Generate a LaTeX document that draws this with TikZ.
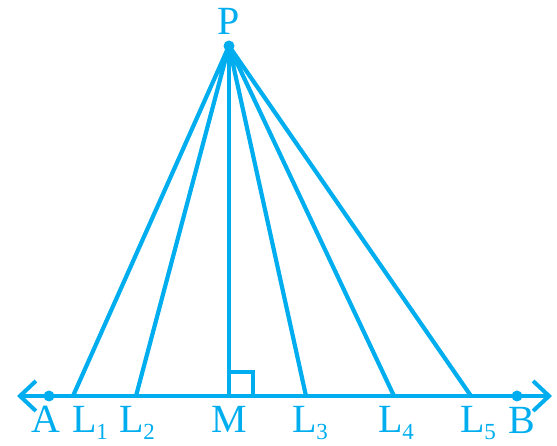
\documentclass[tikz,border=0pt]{standalone}
\usepackage{fontspec}
\setmainfont{Liberation Serif}
\usepackage{xcolor}
\definecolor{vizLine}{HTML}{00AEEF}
\usetikzlibrary{arrows.meta}
\newcommand{\lsub}[1]{\raisebox{-7pt}{\fontsize{23}{23}\selectfont #1}}

\begin{document}
\begin{tikzpicture}[x=1pt,y=1pt,
    seg/.style={draw=vizLine, line width=4.2pt},
    ptdot/.style={circle, fill=vizLine, inner sep=0pt, minimum size=11pt},
    lbl/.style={text=vizLine, font=\fontsize{40}{40}\selectfont, anchor=base, inner sep=0pt}]
  \useasboundingbox (0,0) rectangle (557,446);
  % points
  \node[ptdot] (P) at (229,400) {};
  \node[ptdot] (A) at (49,50) {};
  \node[ptdot] (B) at (517,50) {};
  \coordinate (Aend) at (17,50);
  \coordinate (Bend) at (552,50);
  \coordinate (L1) at (73,50);
  \coordinate (L2) at (136,50);
  \coordinate (M) at (229,50);
  \coordinate (L3) at (306,50);
  \coordinate (L4) at (394,50);
  \coordinate (L5) at (471,50);
  % base line
  \draw[seg, {Straight Barb[length=16pt,width=30pt,line width=4pt]}-{Straight Barb[length=16pt,width=30pt,line width=4pt]}] (Aend) -- (Bend);
  % lines from P
  \draw[seg, line join=round] (L1) -- (P.center) -- (L2);
  \draw[seg] (P.center) -- (M);
  \draw[seg, line join=round] (L3) -- (P.center) -- (L4);
  \draw[seg] (P.center) -- (L5);
  \draw[draw=vizLine, line width=3.4pt] (M) ++(0,24) -| ++(24,-24);
  % labels
  \node[lbl] (tP) at (229,411) {P};
  \node[lbl] (tA) at (46,13) {A};
  \node[lbl] (tL1) at (90,13) {L\lsub{1}};
  \node[lbl] (tL2) at (137,13) {L\lsub{2}};
  \node[lbl] (tM) at (229,13) {M};
  \node[lbl] (tL3) at (310,13) {L\lsub{3}};
  \node[lbl] (tL4) at (396,13) {L\lsub{4}};
  \node[lbl] (tL5) at (478,13) {L\lsub{5}};
  \node[lbl] (tB) at (522,12) {B};
\end{tikzpicture}
\end{document}
